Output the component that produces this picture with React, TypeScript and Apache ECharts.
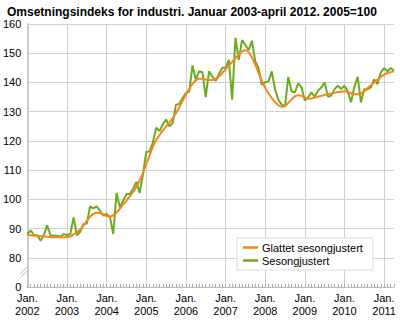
import React, { useEffect, useRef } from "react";
import * as echarts from "echarts";

const titleText = "Omsetningsindeks for industri. Januar 2003-april 2012. 2005=100";
const years = ["2002", "2003", "2004", "2005", "2006", "2007", "2008", "2009", "2010", "2011"];
const monthsPerYear = [12, 12, 12, 12, 12, 12, 12, 12, 12, 4];
const seriesNames = ["Glattet sesongjustert", "Sesongjustert"];

const glattet = [
  87.8, 87.7, 87.6, 87.5, 87.4, 87.3, 87.2, 87.1, 87.0, 87.0, 87.0, 87.0,
  87.1, 87.3, 88.0, 88.6, 89.8, 91.0, 92.6, 94.0, 95.0, 95.4, 95.3, 94.8,
  94.3, 94.2, 94.6, 95.5, 96.8, 98.2, 99.6, 101.0, 102.5, 104.3, 106.5, 109.0,
  112.0, 115.0, 118.0, 120.3, 122.0, 123.5, 125.0, 126.3, 127.8, 129.5, 131.5, 133.7,
  135.8, 137.8, 139.5, 140.7, 141.3, 141.3, 141.0, 140.8, 140.8, 141.2, 142.0, 143.2,
  144.5, 145.8, 147.0, 148.3, 149.6, 150.6, 151.0, 150.3, 148.5, 146.0, 143.3, 140.5,
  138.2, 136.3, 134.7, 133.3, 132.2, 131.7, 132.0, 133.0, 134.2, 135.2, 135.6, 135.4,
  134.8, 134.4, 134.5, 134.8, 135.1, 135.4, 135.7, 136.0, 136.2, 136.5, 136.7, 136.8,
  137.0, 136.7, 136.3, 136.0, 136.0, 136.3, 137.0, 138.0, 139.0, 140.0, 141.0, 141.9,
  142.7, 143.2, 143.5, 143.7,
];

const sesong = [
  88.1, 89.4, 87.8, 87.7, 85.8, 87.8, 91.1, 87.7, 87.5, 87.5, 87.3, 88.1,
  87.8, 88.1, 93.8, 87.7, 88.9, 91.5, 91.7, 97.6, 96.9, 97.6, 96.1, 94.4,
  95.0, 93.9, 88.2, 102.2, 97.3, 99.5, 101.8, 101.8, 103.5, 106.0, 102.2, 108.6,
  116.3, 116.3, 119.4, 124.5, 123.4, 125.6, 127.3, 125.0, 126.1, 132.4, 132.6, 134.7,
  136.4, 136.9, 145.8, 141.0, 143.8, 143.5, 135.0, 143.8, 142.0, 140.5, 142.8, 145.0,
  145.0, 147.7, 134.1, 155.3, 147.7, 154.5, 152.8, 151.1, 154.2, 147.2, 144.9, 139.2,
  140.1, 140.3, 143.8, 137.5, 134.1, 132.4, 131.8, 141.9, 136.9, 136.6, 139.7, 138.3,
  133.8, 134.9, 136.6, 135.1, 137.2, 138.3, 140.0, 135.1, 135.5, 137.7, 138.9, 137.7,
  138.9, 136.9, 133.2, 138.5, 141.9, 133.2, 137.7, 137.7, 138.3, 141.1, 139.4, 143.4,
  144.9, 143.8, 144.9, 144.0,
];

const yMin = 70; // shown as "0" (broken axis)
const yMax = 160;
const yStep = 10;

const categories: string[] = [];
years.forEach((y, yi) => {
  for (let m = 1; m <= monthsPerYear[yi]; m++) {
    categories.push(y + "-" + (m < 10 ? "0" + m : String(m)));
  }
});

const FONT = "'Liberation Sans', Arial, sans-serif";

export default function App() {
  const ref = useRef<HTMLDivElement>(null);
  useEffect(() => {
    if (!ref.current) return;
    const chart = echarts.init(ref.current, null, { renderer: "svg" });
    chart.setOption({
      animation: false,
      backgroundColor: "#fff",
      textStyle: { fontFamily: FONT },
      title: {
        text: titleText,
        left: 2,
        top: 1,
        textStyle: { fontFamily: FONT, fontSize: 12, fontWeight: "bold", color: "#000" },
      },
      grid: { left: 26, right: 6, top: 24, bottom: 33, containLabel: false },
      legend: {
        data: seriesNames,
        orient: "vertical",
        left: 237,
        top: 238,
        backgroundColor: "#fff",
        borderColor: "#ddd",
        borderWidth: 1,
        padding: [4, 10, 4, 6],
        itemGap: 2,
        itemWidth: 15,
        itemHeight: 2.5,
        icon: "rect",
        textStyle: { fontFamily: FONT, fontSize: 11, color: "#000", padding: [0, 0, 0, -1] },
      },
      xAxis: {
        type: "category",
        data: categories,
        boundaryGap: false,
        axisLine: { lineStyle: { color: "#bbb", width: 1 } },
        axisTick: { show: true, interval: 0, inside: true, length: 3, lineStyle: { color: "#aaa" } },
        axisLabel: {
          interval: (i: number) => i % 12 === 0,
          formatter: (v: string) => "Jan.\n" + v.slice(0, 4),
          color: "#000",
          fontSize: 11,
          lineHeight: 13,
          margin: 4,
          fontFamily: FONT,
        },
        splitLine: {
          show: true,
          interval: (i: number) => i % 12 === 0,
          lineStyle: { color: "#d0d0d0", width: 1 },
        },
      },
      yAxis: {
        type: "value",
        min: yMin,
        max: yMax,
        interval: yStep,
        axisLine: { show: true, lineStyle: { color: "#ccc", width: 2 } },
        axisTick: { show: false },
        axisLabel: {
          formatter: (v: number) => (v === yMin ? "0" : String(v)),
          color: "#000",
          fontSize: 11,
          margin: 6,
          fontFamily: FONT,
        },
        splitLine: { show: true, lineStyle: { color: "#d0d0d0", width: 1 } },
      },
      graphic: [
        { type: "line", shape: { x1: 20, y1: 274, x2: 27, y2: 267 }, style: { stroke: "#bbb", lineWidth: 1 }, z: 10 },
        { type: "line", shape: { x1: 21, y1: 277, x2: 28, y2: 270 }, style: { stroke: "#bbb", lineWidth: 1 }, z: 10 },
      ],
      series: [
        {
          name: seriesNames[0],
          type: "line",
          data: glattet,
          symbol: "none",
          smooth: true,
          lineStyle: { color: "#f7861c", width: 2 },
          itemStyle: { color: "#f7861c" },
          z: 4,
        },
        {
          name: seriesNames[1],
          type: "line",
          data: sesong,
          symbol: "none",
          lineStyle: { color: "#6cab20", width: 2 },
          itemStyle: { color: "#6cab20" },
          z: 3,
        },
      ],
    });
    return () => chart.dispose();
  }, []);
  return (
    <div
      ref={ref}
      style={{ position: "absolute", left: 0, top: 0, width: 400, height: 320 }}
    />
  );
}
